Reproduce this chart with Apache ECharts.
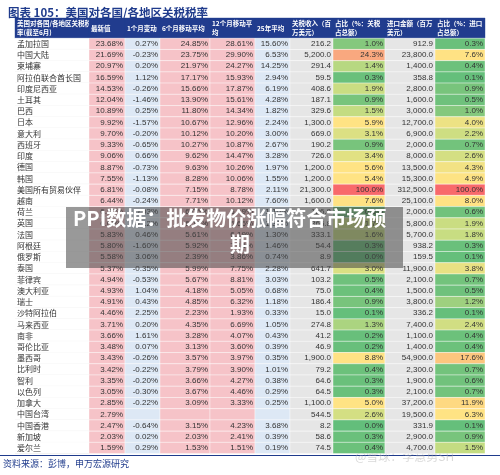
<!DOCTYPE html>
<html><head><meta charset="utf-8">
<script src="https://cdn.jsdelivr.net/npm/echarts@6/dist/echarts.min.js"></script>
<style>html,body{margin:0;padding:0;background:#fff}#c{width:500px;height:475px}</style>
</head><body><div id="c"></div>
<script>
const names=["孟加拉国","中国大陆","柬埔寨","阿拉伯联合酋长国","印度尼西亚","土耳其","巴西","日本","意大利","西班牙","印度","德国","韩国","美国所有贸易伙伴","越南","荷兰","英国","法国","阿根廷","俄罗斯","泰国","菲律宾","澳大利亚","瑞士","沙特阿拉伯","马来西亚","南非","哥伦比亚","墨西哥","比利时","智利","以色列","加拿大","中国台湾","中国香港","新加坡","爱尔兰"];
const latest=[23.68,21.69,20.97,16.59,14.53,12.04,10.89,9.92,9.70,9.33,9.06,8.87,7.55,6.81,6.44,6.32,6.00,5.83,5.80,5.58,5.37,4.94,4.93,4.91,4.46,3.71,3.66,3.48,3.43,3.42,3.35,3.05,2.85,2.79,2.47,2.03,1.59];
const chg1=[0.27,-0.23,0.20,1.12,-0.26,-1.46,0.25,-1.57,-0.20,-0.65,0.66,-0.73,-1.13,-0.08,-0.24,-0.03,-0.12,0.46,-1.60,3.06,-0.35,-0.53,1.04,0.43,2.25,0.20,1.61,0.07,-0.26,-0.22,-0.20,-0.30,-0.22,null,-0.64,0.02,0.29];
const ma6=[24.85,23.75,21.97,17.17,15.66,13.90,11.80,10.67,10.12,10.27,9.62,9.63,8.28,7.15,7.71,6.05,6.12,5.61,5.92,2.39,5.99,5.67,4.18,4.85,2.23,4.35,3.28,3.13,3.57,3.79,3.66,3.67,3.09,null,3.15,2.03,1.53];
const ma12=[28.61,29.90,24.27,15.93,17.87,15.61,14.34,12.96,10.20,10.87,14.47,10.26,10.06,8.78,10.12,6.49,6.66,6.19,7.16,3.86,7.75,8.81,5.05,6.32,1.93,6.69,4.07,3.60,3.97,3.90,4.27,4.46,3.33,null,4.23,2.41,1.51];
const avg25=[15.60,6.53,14.25,2.94,6.19,4.28,1.82,2.24,3.00,2.67,3.28,1.97,1.55,2.11,7.60,1.10,1.39,1.30,1.46,0.74,2.28,3.03,0.68,1.18,0.33,1.05,0.43,0.39,0.35,1.01,0.38,0.29,0.25,null,3.68,0.39,0.19];
const rev=[216.2,5200.0,291.4,59.5,408.6,187.1,329.6,1300.0,669.0,190.2,726.0,1200.0,1200.0,21300.0,1600.0,126.8,366.8,333.1,54.4,8.9,641.7,103.2,75.0,186.4,15.0,274.8,41.2,46.9,1900.0,79.2,64.6,64.5,1100.0,544.5,8.2,58.6,74.5];
const revShare=[1.0,24.3,1.4,0.3,1.9,0.9,1.5,5.9,3.1,0.9,3.4,5.6,5.4,100.0,7.6,0.6,1.7,1.6,0.3,0.0,3.0,0.5,0.4,0.9,0.1,1.3,0.2,0.2,8.8,0.4,0.3,0.3,5.0,2.6,0.0,0.3,0.4];
const imp=[912.9,23800.0,1400.0,358.8,2800.0,1600.0,3000.0,12700.0,6900.0,2000.0,8000.0,13500.0,15300.0,312500.0,25100.0,2000.0,5800.0,5700.0,938.2,159.5,11900.0,2100.0,1500.0,3800.0,336.2,7400.0,1100.0,1400.0,54900.0,2300.0,1900.0,2100.0,37200.0,19500.0,331.9,2900.0,4700.0];
const impShare=[0.3,7.6,0.4,0.1,0.9,0.5,1.0,4.0,2.2,0.7,2.6,4.3,4.9,100.0,8.0,0.6,1.9,1.8,0.3,0.1,3.8,0.7,0.5,1.2,0.1,2.4,0.4,0.4,17.6,0.7,0.6,0.7,11.9,6.3,0.1,0.9,1.5];
const headers=[["美国对各国/各地区关税税","率(截至6月)"],["最新值"],["1个月变动"],["6个月移动平均"],["12个月移动平","均"],["25年平均"],["关税收入（百","万美元）"],["占比（%：关税","占总额）"],["进口金额（百万","美元）"],["占比（%：进口","占总额）"]];

const bounds=[15,89,125,160,210,255,290,333,385,435,485];
const fixedBg=['#ffffff','#f6c3c8','#dde8f5','#f6c3c8','#f6c3c8','#dde8f5','#e6e6e6',null,'#e6e6e6',null];
const stops=[[0,[99,190,123]],[0.9,[120,196,124]],[1.5,[196,220,130]],[3,[218,224,131]],[5,[255,227,132]],[9,[255,226,132]],[20,[252,190,124]],[25,[249,164,128]],[100,[248,105,107]]];
function shareColor(v){for(let i=1;i<stops.length;i++){if(v<=stops[i][0]){const a=stops[i-1],b=stops[i];const t=(v-a[0])/(b[0]-a[0]);const c=a[1].map((x,k)=>Math.round(x+(b[1][k]-x)*t));return 'rgb('+c.join(',')+')';}}return 'rgb(248,105,107)';}
const pct=v=>v==null?'':v.toFixed(2)+'%';
const num=v=>v.toLocaleString('en-US',{minimumFractionDigits:1,maximumFractionDigits:1});
const sh=v=>v.toFixed(1)+'%';

const data=[];
headers.forEach((h,c)=>data.push([c,-1.8,h.join('\n'),'#213c8e','h']));
names.forEach((n,r)=>{
  const row=[n,pct(latest[r]),pct(chg1[r]),pct(ma6[r]),pct(ma12[r]),pct(avg25[r]),num(rev[r]),sh(revShare[r]),num(imp[r]),sh(impShare[r])];
  row.forEach((t,c)=>{
    let bg=fixedBg[c];
    if(c===7)bg=shareColor(revShare[r]);
    if(c===9)bg=shareColor(impShare[r]);
    data.push([c,r,t,bg,'b']);
  });
});

const chart=echarts.init(document.getElementById('c'));
chart.setOption({
  animation:false,
  title:{text:'图表 105：美国对各国/各地区关税税率',left:3,top:2,textStyle:{fontSize:11.5,fontWeight:'bold',color:'#1f3b8c',fontFamily:'Noto Sans CJK SC'}},
  grid:{left:0,right:0,top:18,bottom:21.4},
  xAxis:{type:'value',min:0,max:500,show:false},
  yAxis:{type:'value',min:-1.8,max:37,inverse:true,show:false},
  graphic:[
    {type:'line',shape:{x1:0,y1:455.5,x2:500,y2:455.5},style:{stroke:'#1f3b8c',lineWidth:1}},
    {type:'text',left:3,top:459,style:{text:'资料来源：彭博，申万宏源研究',fontSize:9,fill:'#1f3b8c',fontFamily:'Noto Sans CJK SC'}},
    {type:'text',left:355,top:450,style:{text:'@雪球：李慧勇SH',fontSize:12,fill:'rgba(170,170,170,0.45)',fontFamily:'Noto Sans CJK SC'}},
    {type:'rect',shape:{x:66,y:207,width:337,height:61},style:{fill:'rgba(70,70,70,0.55)'},z:10},
    {type:'text',left:73,top:208,z:11,style:{text:'PPI数据：批发物价涨幅符合市场预',fontSize:20,fontWeight:'bold',fill:'#fff',fontFamily:'Noto Sans CJK SC'}},
    {type:'text',left:230,top:234,z:11,style:{text:'期',fontSize:20,fontWeight:'bold',fill:'#fff',fontFamily:'Noto Sans CJK SC'}}
  ],
  series:[{
    type:'custom',
    data:data,
    renderItem:function(params,api){
      const c=api.value(0), r=api.value(1);
      const d=data[params.dataIndex];
      const isH=d[4]==='h';
      const p0=api.coord([bounds[c],r]);
      const p1=api.coord([bounds[c+1],isH?0:r+1]);
      const w=p1[0]-p0[0], h=p1[1]-p0[1];
      const children=[{type:'rect',shape:{x:p0[0],y:p0[1],width:w,height:h},style:{fill:d[3],stroke:isH?d[3]:'#ffffff',lineWidth:0.4}}];
      if(c===0&&!isH)children.push({type:'line',shape:{x1:p0[0],y1:p1[1],x2:p1[0],y2:p1[1]},style:{stroke:'#e4e4e4',lineWidth:0.5}});
      if(isH){
        children.push({type:'text',style:{text:d[2],x:p0[0]+2,y:p0[1]+h/2,verticalAlign:'middle',align:'left',fontSize:6.5,lineHeight:9,fontWeight:'bold',fill:'#fff',fontFamily:'Noto Sans CJK SC'}});
      }else if(c===0){
        children.push({type:'text',style:{text:d[2],x:p0[0]+2,y:p0[1]+h/2,verticalAlign:'middle',align:'left',fontSize:8,fill:'#333',fontFamily:'Noto Sans CJK SC'}});
      }else{
        children.push({type:'text',style:{text:d[2],x:p1[0]-2,y:p0[1]+h/2,verticalAlign:'middle',align:'right',fontSize:8,fill:'#333',fontFamily:'Liberation Sans'}});
      }
      return {type:'group',children:children};
    }
  }]
});
</script></body></html>
